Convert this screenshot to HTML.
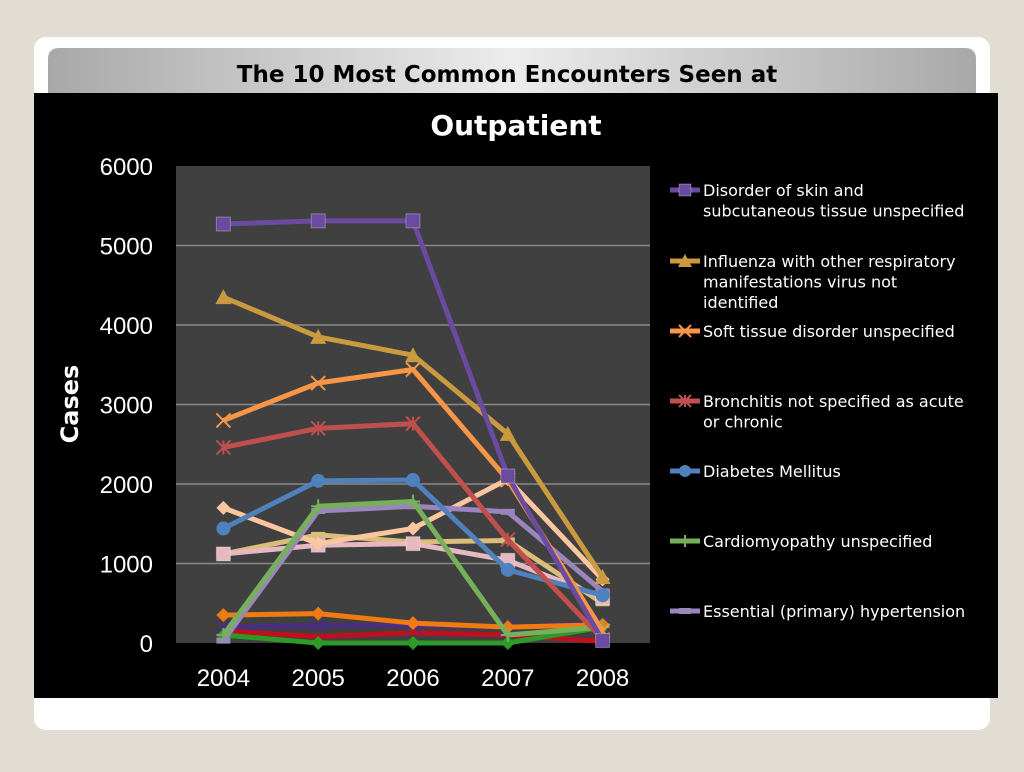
<!DOCTYPE html>
<html><head><meta charset="utf-8"><style>
body{margin:0;width:1024px;height:768px;background:#e2ddd2;overflow:hidden;font-family:"DejaVu Sans","Liberation Sans",sans-serif}
</style></head><body>
<svg id="svg" width="1024" height="768" xmlns="http://www.w3.org/2000/svg">
<defs>
<linearGradient id="hg" x1="0" x2="1" y1="0" y2="0"><stop offset="0" stop-color="#a8a8a8"/><stop offset="0.5" stop-color="#ececec"/><stop offset="1" stop-color="#a8a8a8"/></linearGradient>
</defs>
<rect x="34" y="37" width="956" height="693" rx="12" fill="#fff"/>
<rect x="48" y="48" width="928" height="60" rx="10" fill="url(#hg)"/>
<text x="507" y="82" text-anchor="middle" font-size="23" font-weight="bold" fill="#000">The 10 Most Common Encounters Seen at</text>
<rect x="34" y="93" width="964" height="605" fill="#000"/>
<text x="516" y="135" text-anchor="middle" font-size="28" font-weight="bold" fill="#fff">Outpatient</text>
<rect x="176" y="166" width="474" height="477" fill="#404040"/>
<text transform="translate(78,404) rotate(-90)" text-anchor="middle" font-size="24" font-weight="bold" fill="#fff">Cases</text>
<g id="grid"></g><g id="series"></g><g id="legend"></g>
</svg>
<script>
const categories=["2004","2005","2006","2007","2008"];
const yTicks=[0,1000,2000,3000,4000,5000,6000];
const names=["Disorder of skin and|subcutaneous tissue unspecified","Influenza with other respiratory|manifestations virus not|identified","Soft tissue disorder unspecified","Bronchitis not specified as acute|or chronic","Diabetes Mellitus","Cardiomyopathy unspecified","Essential (primary) hypertension","Series 8","Series 9","Series 10","Series 11","Series 12","Series 13","Series 14"];
const colors=["#6b4ba0","#c99a3f","#f79646","#c0504d","#4f81bd","#77b05a","#9a86bd","#fbc6a0","#e6b9c0","#d9bd78","#f07b10","#4a2f80","#2e9a2a","#c01020"];
const markers=["square","triangle","x","star","circle","plus","dash","diamond","square","dash","diamond","x","diamond","none"];
const s1=[5270,5310,5310,2100,30];
const s2=[4350,3850,3620,2630,830];
const s3=[2800,3270,3440,2050,150];
const s4=[2460,2700,2760,1300,50];
const s5=[1440,2040,2050,920,600];
const s6=[100,1720,1780,100,200];
const s7=[30,1660,1720,1650,650];
const s8=[1700,1250,1440,2060,800];
const s9=[1120,1230,1250,1040,570];
const s10=[1120,1360,1270,1290,500];
const s11=[350,370,250,200,230];
const s12=[200,220,220,200,250];
const s13=[100,0,0,0,200];
const s14=[150,80,130,100,20];
const series=[s1,s2,s3,s4,s5,s6,s7,s8,s9,s10,s11,s12,s13,s14];
const NS="http://www.w3.org/2000/svg";
const x0=176,x1=650,yB=643,yT=166;
const xs=i=>x0+(i+0.5)*(x1-x0)/categories.length;
const ys=v=>yB-(v/6000)*(yB-yT);
function mk(t,a,p){const e=document.createElementNS(NS,t);for(const k in a)e.setAttribute(k,a[k]);p.appendChild(e);return e;}
const grid=document.getElementById('grid');
yTicks.forEach(t=>{
 if(t>0&&t<6000){const l=mk('line',{x1:x0,x2:x1,y1:ys(t),y2:ys(t),stroke:'#8a8a8a','stroke-width':1.5},grid);
 
 }
 const tx=mk('text',{x:153,y:ys(t)+9,'text-anchor':'end','font-size':24,fill:'#fff','font-family':'Liberation Sans, sans-serif'},grid);tx.textContent=t;
 
 
});
categories.forEach((c,i)=>{const tx=mk('text',{x:xs(i),y:686,'text-anchor':'middle','font-size':24,fill:'#fff','font-family':'Liberation Sans, sans-serif'},grid);tx.textContent=c;
 
 });
function marker(g,type,x,y,c,s){
 s=s||7;
 if(type==='square')mk('rect',{x:x-s,y:y-s,width:2*s,height:2*s,fill:c,stroke:'#fff','stroke-opacity':0.3},g);
 else if(type==='triangle')mk('polygon',{points:`${x},${y-s-1} ${x+s+1},${y+s} ${x-s-1},${y+s}`,fill:c},g);
 else if(type==='circle')mk('circle',{cx:x,cy:y,r:s,fill:c},g);
 else if(type==='diamond')mk('polygon',{points:`${x},${y-s} ${x+s},${y} ${x},${y+s} ${x-s},${y}`,fill:c},g);
 else if(type==='x'||type==='star'){mk('path',{d:`M${x-s} ${y-s}L${x+s} ${y+s}M${x+s} ${y-s}L${x-s} ${y+s}`+(type==='star'?`M${x} ${y-s}L${x} ${y+s}`:''),stroke:c,'stroke-width':2},g);}
 else if(type==='plus')mk('path',{d:`M${x-s} ${y}L${x+s} ${y}M${x} ${y-s}L${x} ${y+s}`,stroke:c,'stroke-width':2},g);
 else if(type==='dash')mk('rect',{x:x-s,y:y-3,width:2*s,height:6,fill:c},g);
}
const sg=document.getElementById('series');
for(let k=series.length-1;k>=0;k--){
 const g=mk('g',{},sg);
 
 
 const d=series[k].map((v,i)=>(i?'L':'M')+xs(i)+' '+ys(v)).join('');
 mk('path',{d:d,fill:'none',stroke:colors[k],'stroke-width':5,'stroke-linejoin':'round'},g);
 series[k].forEach((v,i)=>{if(markers[k]!=='none')marker(g,markers[k],xs(i),ys(v),colors[k]);});
}
const lg=document.getElementById('legend');
const ly=[190,261,331,401,471,541,611];
ly.forEach((y,k)=>{
 const g=mk('g',{},lg);
 
 
 mk('line',{x1:670,x2:700,y1:y,y2:y,stroke:colors[k],'stroke-width':5},g);
 marker(g,markers[k],685,y,colors[k],6);
 names[k].split('|').forEach((ln,j)=>{const t=mk('text',{x:703,y:y+6+j*20.5,'font-size':16,fill:'#fff'},g);t.textContent=ln;});
});
</script>
</body></html>
